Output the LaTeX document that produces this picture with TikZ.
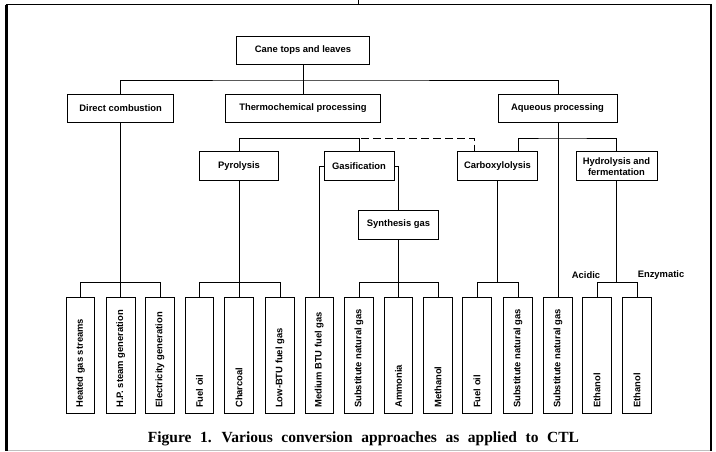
\documentclass[tikz,border=0pt]{standalone}
\usepackage{fontspec}
\setmainfont{Liberation Serif}
\setsansfont{Liberation Sans}
\begin{document}
\begin{tikzpicture}[x=1pt,y=-1pt,
  box/.style={draw,line width=0.9pt,rectangle,inner sep=0pt,font=\sffamily\bfseries\fontsize{9.4}{11}\selectfont,align=center},
  outbox/.style={draw,line width=0.9pt,rectangle,inner sep=0pt,minimum width=28.5pt,minimum height=115.5pt},
  vtext/.style={rotate=90,anchor=west,inner sep=0pt,font=\sffamily\bfseries\fontsize{9.4}{11}\selectfont},
  lbl/.style={inner sep=0pt,font=\sffamily\bfseries\fontsize{9.4}{11}\selectfont},
  conn/.style={line width=0.9pt},
  dconn/.style={line width=0.9pt,dash pattern=on 8pt off 4pt,dash phase=10pt}]
\useasboundingbox (0,0) rectangle (716,451);
% frame
\draw[line width=2.5pt] (6.5,4.5) -- (6.5,451);
\draw[line width=1.5pt] (5.5,4.5) -- (711,4.5);
\draw[line width=2pt] (710.5,3.8) -- (710.5,451);
\draw[line width=0.8pt,black!25] (8,450) -- (710,450);
\draw[line width=0.8pt] (358.3,0) -- (358.3,4);
% upper nodes
\node[box,minimum width=133pt,minimum height=28pt] (cane) at (303,50) {Cane tops and leaves};
\node[box,minimum width=106pt,minimum height=28.3pt] (direct) at (120.7,108.2) {Direct combustion};
\node[box,minimum width=155pt,minimum height=28.3pt] (thermo) at (303,108.2) {Thermochemical processing};
\node[box,minimum width=119pt,minimum height=28.3pt] (aqueous) at (557.5,108.2) {Aqueous processing};
\node[box,minimum width=79.7pt,minimum height=29pt] (pyro) at (239,166.2) {Pyrolysis};
\node[box,minimum width=70pt,minimum height=29pt] (gas) at (359,166.2) {Gasification};
\node[box,minimum width=79.2pt,minimum height=29pt] (carbox) at (497.5,166.2) {Carboxylolysis};
\node[box,minimum width=81pt,minimum height=29pt] (hydro) at (616.5,166.2) {Hydrolysis and\\fermentation};
\node[box,minimum width=79.3pt,minimum height=29pt] (synth) at (398.5,224.5) {Synthesis gas};
% bottom boxes
\foreach \n/\cx/\t in {b1/80.5/Heated gas streams, b2/120.7/H.P. steam generation, b3/160/Electricity generation,
  b4/199.5/Fuel oil, b5/239/Charcoal, b6/280/Low-BTU fuel gas, b7/319.3/Medium BTU fuel gas,
  b8/359/Substitute natural gas, b9/398.5/Ammonia, b10/438/Methanol, b11/477/Fuel oil,
  b12/518/Substitute natural gas, b13/558/Substitute natural gas, b14/597/Ethanol, b15/637/Ethanol}{
  \node[outbox] (\n) at (\cx,355.25) {};
  \node[vtext] (\n t) at ([yshift=5.5pt]\n.south) {\t};
}
\node[lbl] (acidic) at (586,275.5) {Acidic};
\node[lbl] (enzym) at (661,275.5) {Enzymatic};
% bus coordinates
\coordinate (bus1) at (303,80);
\coordinate (tb) at (359,138);
\coordinate (ab) at (558,138);
\coordinate (cd) at (474.3,151.7);
\coordinate (ca) at (518,151.7);
\coordinate (db) at (120.7,282.5);
\coordinate (pb) at (239,282.5);
\coordinate (sb) at (398.5,282.5);
\coordinate (cb) at (497.5,282.5);
\coordinate (hb) at (616.5,282.5);
% connectors
\draw[conn] (cane.south) -- (bus1);
\draw[conn] (direct.north) |- (bus1) -| (aqueous.north -| ab);
\draw[conn] (bus1) -- (thermo.north);
\draw[conn] (pyro.north) |- (tb) -- (gas.north);
\draw[dconn] (tb) -| (cd);
\draw[conn] (ca) |- (ab) -| (hydro.north);
\draw[conn] (aqueous.south -| ab) -- (b13.north);
\draw[conn] (gas.west) -| (b7.north);
\draw[conn] (gas.east) -| (synth.north);
\draw[conn] (direct.south -| db) -- (b2.north);
\draw[conn] (b1.north) |- (db) -| (b3.north);
\draw[conn] (pyro.south) -- (b5.north);
\draw[conn] (b4.north) |- (pb) -| (b6.north);
\draw[conn] (synth.south) -- (b9.north);
\draw[conn] (b8.north) |- (sb) -| (b10.north);
\draw[conn] (carbox.south) -- (cb);
\draw[conn] (b11.north) |- (cb) -| (b12.north);
\draw[conn] (hydro.south) -- (hb);
\draw[conn] (b14.north) |- (hb) -| (b15.north);
% caption
\node[inner sep=0pt,font=\rmfamily\bfseries\fontsize{15.5}{18}\selectfont] (cap) at (363.5,439) {\spaceskip=8.6pt Figure 1. Various conversion approaches as applied to CTL};
\end{tikzpicture}
\end{document}
